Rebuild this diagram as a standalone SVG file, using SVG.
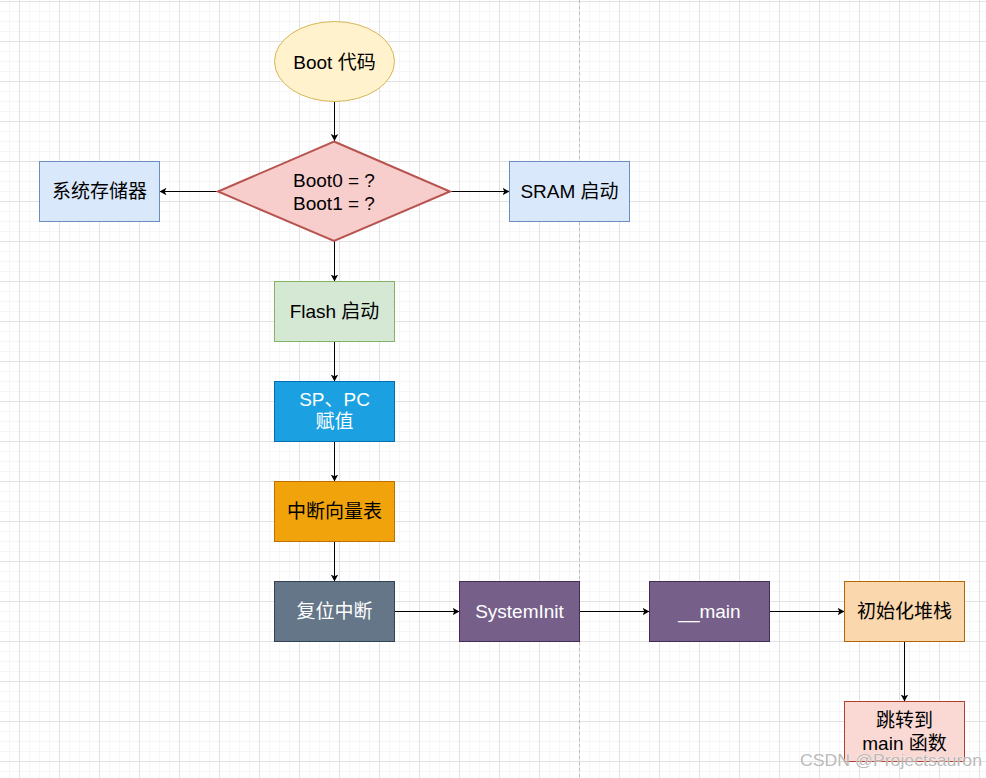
<svg xmlns="http://www.w3.org/2000/svg" width="986" height="778" viewBox="0 0 986 778">
<style>
.t{font-family:"Liberation Sans","Noto Sans CJK SC",Arial,sans-serif;font-size:19px;text-anchor:middle;fill:#000}
.w{fill:#ffffff}
.c{stroke:#000;stroke-width:1;fill:none;marker-end:url(#arr)}
.wm{font-family:"Liberation Sans","Noto Sans CJK SC",Arial,sans-serif;font-size:17px;fill:#b4b4b4;stroke:#ffffff;stroke-width:0.6;paint-order:stroke;opacity:0.9}
</style>
<defs>
<pattern id="grid" patternUnits="userSpaceOnUse" x="19" y="1" width="40" height="40">
<rect x="0" y="0" width="40" height="40" fill="#ffffff"/>
<rect x="10" y="0" width="1" height="40" fill="#f6f6f6"/>
<rect x="20" y="0" width="1" height="40" fill="#f6f6f6"/>
<rect x="30" y="0" width="1" height="40" fill="#f6f6f6"/>
<rect x="0" y="10" width="40" height="1" fill="#f6f6f6"/>
<rect x="0" y="20" width="40" height="1" fill="#f6f6f6"/>
<rect x="0" y="30" width="40" height="1" fill="#f6f6f6"/>
<rect x="0" y="0" width="1" height="40" fill="#e2e2e2"/>
<rect x="0" y="0" width="40" height="1" fill="#e2e2e2"/>
</pattern>
<marker id="arr" markerUnits="userSpaceOnUse" markerWidth="8" markerHeight="8" refX="7" refY="3.75" orient="auto" viewBox="0 0 8 7.5">
<path d="M0,0 L7,3.75 L0,7.5 L1.8,3.75 Z" fill="#000"/>
</marker>
</defs>
<rect x="0" y="0" width="986" height="778" fill="url(#grid)"/>
<line x1="579.5" y1="0" x2="579.5" y2="778" stroke="#bdbdbd" stroke-width="1" stroke-dasharray="3,3"/>

<g id="connectors">
<line class="c" x1="334.5" y1="101.5" x2="334.5" y2="141"/>
<line class="c" x1="218" y1="191.5" x2="159.5" y2="191.5"/>
<line class="c" x1="450" y1="191.5" x2="509.5" y2="191.5"/>
<line class="c" x1="334.5" y1="241" x2="334.5" y2="281.5"/>
<line class="c" x1="334.5" y1="341.5" x2="334.5" y2="381.5"/>
<line class="c" x1="334.5" y1="441.5" x2="334.5" y2="481.5"/>
<line class="c" x1="334.5" y1="541.5" x2="334.5" y2="581.5"/>
<line class="c" x1="394.5" y1="611.5" x2="459.5" y2="611.5"/>
<line class="c" x1="579.5" y1="611.5" x2="649.5" y2="611.5"/>
<line class="c" x1="769.5" y1="611.5" x2="844.5" y2="611.5"/>
<line class="c" x1="904.5" y1="641.5" x2="904.5" y2="701.5"/>
</g>

<g id="boot">
<ellipse cx="334.5" cy="61.5" rx="60" ry="40" fill="#fff2cc" stroke="#d6b656"/>
<text class="t" x="334.5" y="68.5">Boot 代码</text>
</g>
<g id="decision">
<polygon points="334,141.5 450,191.5 334,241 218,191.5" fill="#f8cecc" stroke="#b85450" stroke-width="2"/>
<text class="t" x="334" y="187">Boot0 = ?</text>
<text class="t" x="334" y="210">Boot1 = ?</text>
</g>
<g id="sysmem">
<rect x="39.5" y="161.5" width="120" height="60" fill="#dae8fc" stroke="#6c8ebf"/>
<text class="t" x="99.5" y="198">系统存储器</text>
</g>
<g id="sram">
<rect x="509.5" y="161.5" width="120" height="60" fill="#dae8fc" stroke="#6c8ebf"/>
<text class="t" x="569.5" y="198">SRAM 启动</text>
</g>
<g id="flash">
<rect x="274.5" y="281.5" width="120" height="60" fill="#d5e8d4" stroke="#82b366"/>
<text class="t" x="334.5" y="318">Flash 启动</text>
</g>
<g id="sppc">
<rect x="274.5" y="381.5" width="120" height="60" fill="#1ba1e2" stroke="#006eaf"/>
<text class="t w" x="334.5" y="405.5">SP、PC</text>
<text class="t w" x="334.5" y="428">赋值</text>
</g>
<g id="vector">
<rect x="274.5" y="481.5" width="120" height="60" fill="#f0a30a" stroke="#bd7000"/>
<text class="t" x="334.5" y="518">中断向量表</text>
</g>
<g id="reset">
<rect x="274.5" y="581.5" width="120" height="60" fill="#647687" stroke="#314354"/>
<text class="t w" x="334.5" y="618">复位中断</text>
</g>
<g id="systeminit">
<rect x="459.5" y="581.5" width="120" height="60" fill="#76608a" stroke="#432d57"/>
<text class="t w" x="519.5" y="618">SystemInit</text>
</g>
<g id="main">
<rect x="649.5" y="581.5" width="120" height="60" fill="#76608a" stroke="#432d57"/>
<text class="t w" x="709.5" y="618">__main</text>
</g>
<g id="initstack">
<rect x="844.5" y="581.5" width="120" height="60" fill="#fad7ac" stroke="#b46504"/>
<text class="t" x="904.5" y="618">初始化堆栈</text>
</g>
<g id="jump">
<rect x="844.5" y="701.5" width="120" height="60" fill="#fad9d5" stroke="#ae4132"/>
<text class="t" x="904.5" y="727">跳转到</text>
<text class="t" x="904.5" y="749.5">main 函数</text>
</g>
<text class="wm" x="800" y="765.5" textLength="182" lengthAdjust="spacingAndGlyphs">CSDN @Projectsauron</text>
</svg>
